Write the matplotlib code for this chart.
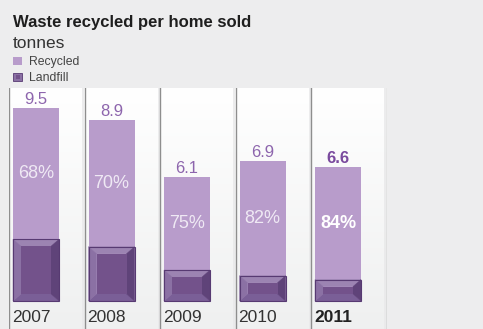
import matplotlib
matplotlib.use("Agg")
import matplotlib.pyplot as plt
import numpy as np
from matplotlib.patches import Rectangle, Polygon

plt.rcParams['font.family'] = ['Liberation Sans', 'DejaVu Sans']

years = ["2007", "2008", "2009", "2010", "2011"]
tonnes = [9.5, 8.9, 6.1, 6.9, 6.6]
recycled_pct = [68, 70, 75, 82, 84]

W, H = 483, 329
BG = "#ededee"
RECYCLED = "#b89ccb"
LF_INNER = "#73528b"
LF_TOP = "#9c84b2"
LF_LEFT = "#8b71a4"
LF_RIGHT = "#5f4379"
LF_BOTTOM = "#7a5f97"
LF_EDGE = "#573a72"
VALUE_COL = "#8d65ad"
HILITE_COL = "#7a4a9e"


def px(x, y):
    return x / W, 1 - y / H


fig = plt.figure(figsize=(W / 100, H / 100), dpi=100, facecolor=BG)

# panel area: 5 columns of 75.5 px, starting at x=9, from y=88 to the bottom
scale = 20.32              # px per tonne
base_px = 301              # pixel row of zero tonnes
ax_left, ax_top = 9, 88
col_w = 75.5
ax = fig.add_axes([ax_left / W, 0, 5 * col_w / W, (H - ax_top) / H])
ymin = -(H - base_px) / scale
ymax = (base_px - ax_top) / scale
ax.set_xlim(0, 5)
ax.set_ylim(ymin, ymax)
ax.axis("off")

# soft white-to-grey gradient behind the columns
grad = np.linspace(0, 1, 256).reshape(-1, 1)
top_c = np.array([1.0, 1.0, 1.0])
bot_c = np.array([0.937, 0.941, 0.941])
img = top_c + (bot_c - top_c) * grad[:, :, None]
ax.imshow(img, extent=[0, 5, ymin, ymax], aspect="auto", zorder=0, origin="upper")

# column separators
for i in range(6):
    if i > 0:
        ax.axvline(i - 1.5 / col_w, color="#e9e9ea", lw=1.2, zorder=1)
    ax.axvline(i, color="#8e8e8e", lw=1.0, zorder=2)

bar_off = 4 / col_w
bar_w = 46 / col_w
dx = 8 / col_w
dy = 7 / scale

for i, (yr, t, p) in enumerate(zip(years, tonnes, recycled_pct)):
    left = i + bar_off
    landfill = t * (100 - p) / 100
    last = i == len(years) - 1
    ax.bar(left, t, width=bar_w, align="edge", color=RECYCLED, zorder=3)

    # bevelled landfill block
    L, R, T = left, left + bar_w, landfill
    faces = [
        ([(L, T), (R, T), (R - dx, T - dy), (L + dx, T - dy)], LF_TOP),
        ([(L, 0), (R, 0), (R - dx, dy), (L + dx, dy)], LF_BOTTOM),
        ([(L, 0), (L, T), (L + dx, T - dy), (L + dx, dy)], LF_LEFT),
        ([(R, 0), (R, T), (R - dx, T - dy), (R - dx, dy)], LF_RIGHT),
    ]
    for pts, c in faces:
        ax.add_patch(Polygon(pts, closed=True, facecolor=c, edgecolor=c, lw=0.3, zorder=4))
    ax.bar(L + dx, T - 2 * dy, width=bar_w - 2 * dx, bottom=dy, align="edge",
           color=LF_INNER, zorder=5)
    ax.bar(L, T, width=bar_w, align="edge", facecolor="none", edgecolor=LF_EDGE,
           lw=0.8, zorder=6)

    cx = left + bar_w / 2
    weight = "bold" if last else "normal"
    ax.text(cx, t + 4 / scale, f"{t:.1f}", ha="center", va="baseline",
            fontsize=12, color=HILITE_COL if last else VALUE_COL,
            fontweight=weight, zorder=7)
    ax.text(cx, (landfill + t) / 2, f"{p}%", ha="center", va="center",
            fontsize=13, color="white" if last else "#efe9f4",
            fontweight=weight, zorder=7)
    ax.text(left - 1 / col_w, -(322 - base_px) / scale, yr, ha="left", va="baseline",
            fontsize=12.5, color="#222222" if last else "#333333",
            fontweight=weight, zorder=7)

# heading and legend
fig.text(*px(13, 27.5), "Waste recycled per home sold", fontsize=12,
         fontweight="bold", color="#1e1e1e", va="baseline")
fig.text(*px(13, 47.5), "tonnes", fontsize=12.5, color="#333333", va="baseline")
fig.text(*px(29, 65.5), "Recycled", fontsize=8.8, color="#444444", va="baseline")
fig.text(*px(29, 81.5), "Landfill", fontsize=8.8, color="#444444", va="baseline")

x0, y0 = px(13, 65)
fig.add_artist(Rectangle((x0, y0), 9 / W, 8 / H, transform=fig.transFigure,
                         facecolor=RECYCLED, edgecolor="none"))
x0, y0 = px(13, 81)
fig.add_artist(Rectangle((x0, y0), 9 / W, 8 / H, transform=fig.transFigure,
                         facecolor=LF_LEFT, edgecolor=LF_EDGE, lw=0.6))
x0, y0 = px(15.5, 78.5)
fig.add_artist(Rectangle((x0, y0), 4 / W, 3 / H, transform=fig.transFigure,
                         facecolor=LF_INNER, edgecolor="none"))

fig.savefig("out.png", dpi=100, facecolor=BG)
